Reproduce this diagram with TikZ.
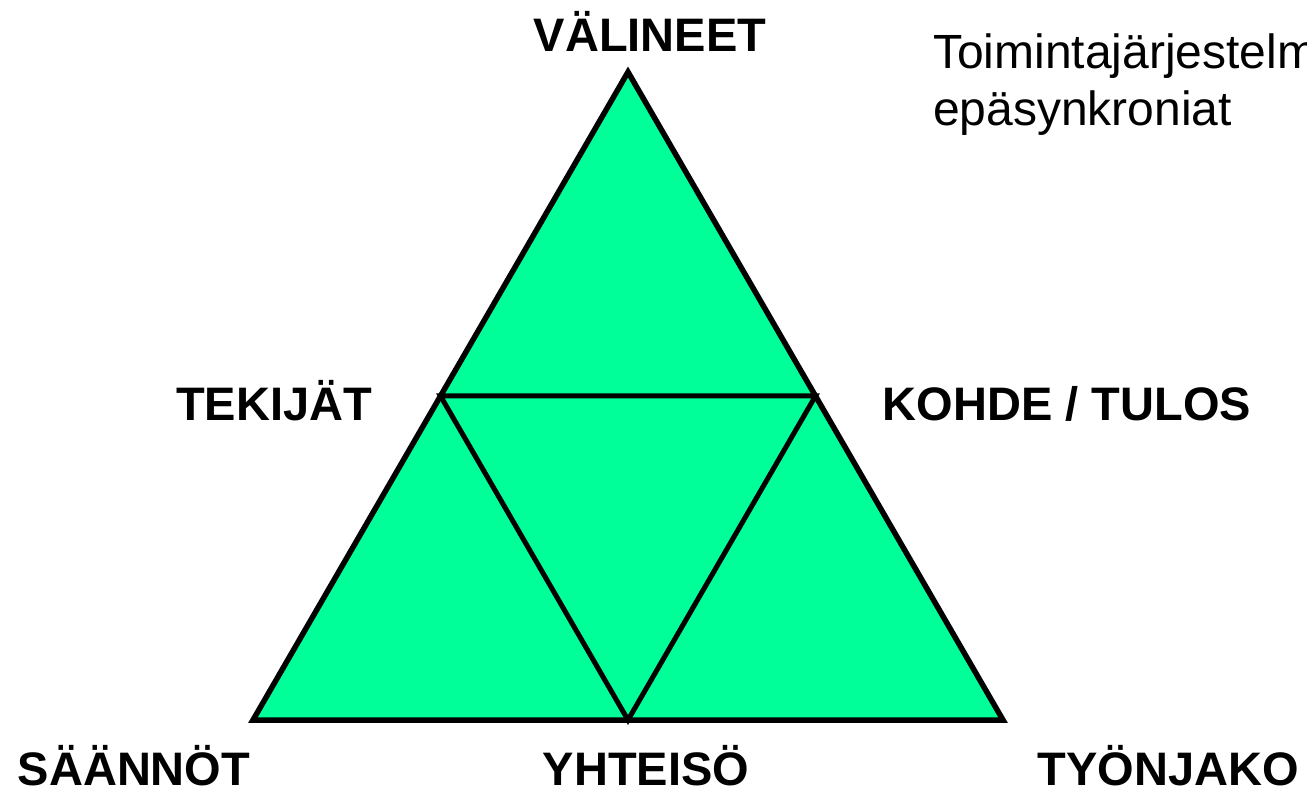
\documentclass[tikz,border=0pt]{standalone}
\usepackage{fontspec}
\setmainfont{Liberation Sans}
\usetikzlibrary{calc}
\definecolor{trigreen}{RGB}{0,255,153}
\begin{document}
\begin{tikzpicture}[x=1pt,y=-1pt,
  lbl/.style={font=\fontsize{47}{56}\selectfont\bfseries, inner sep=0pt, anchor=base},
  note/.style={font=\fontsize{48}{57}\selectfont, inner sep=0pt, anchor=base west},
  edge/.style={line width=5.5pt, line join=miter},
  inner/.style={line width=5pt}]
\useasboundingbox (0,0) rectangle (1307,791);
\coordinate (A) at (628,72);
\coordinate (L) at (253,720);
\coordinate (R) at (1003,720);
\coordinate (ML) at ($ (A)!0.5!(L) $);
\coordinate (MR) at ($ (A)!0.5!(R) $);
\coordinate (MB) at (628,720);
\fill[trigreen] (A) -- (L) -- (R) -- cycle;
\draw[inner] (ML) -- (MR) -- (MB) -- cycle;
\draw[edge] (A) -- (L) -- (R) -- cycle;
\node[lbl] (valineet) at (650,52) {VÄLINEET};
\node[lbl] (tekijat) at (274,421) {TEKIJÄT};
\node[lbl] (kohde) at (1067,421) {KOHDE / TULOS};
\node[lbl] (saannot) at (134,785) {SÄÄNNÖT};
\node[lbl] (yhteiso) at (646,785) {YHTEISÖ};
\node[lbl] (tyonjako) at (1168,785) {TYÖNJAKO};
\node[note] (note1) at (933,69) {Toimintajärjestelmän};
\node[note] (note2) at (933,126) {epäsynkroniat};
\end{tikzpicture}
\end{document}
